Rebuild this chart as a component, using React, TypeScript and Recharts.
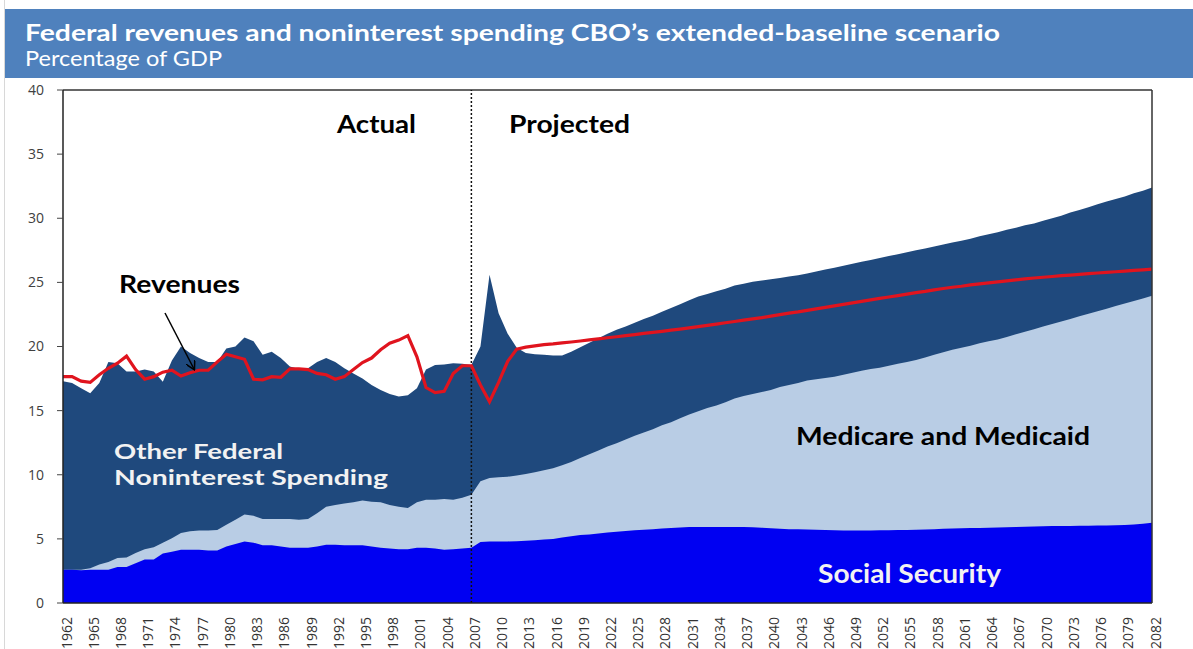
import React from 'react';
import { ComposedChart, Area, Line, XAxis, YAxis, ReferenceLine } from 'recharts';

const years: string[] = Array.from({ length: 121 }, (_, i) => String(1962 + i));

// Total federal noninterest spending (top of dark area), % of GDP
const totalSpending = [
  17.3, 17.15, 16.75, 16.35, 17.15, 18.8, 18.7, 18.05, 18.05, 18.2,
  18.05, 17.25, 18.9, 20.0, 19.5, 19.1, 18.8, 18.8, 19.85, 20.0,
  20.7, 20.4, 19.35, 19.6, 19.1, 18.45, 18.25, 18.3, 18.8, 19.1,
  18.8, 18.3, 17.9, 17.5, 17.0, 16.6, 16.3, 16.1, 16.2, 16.75,
  18.2, 18.55, 18.6, 18.7, 18.65, 18.55, 20.0, 25.6, 22.6, 21.0,
  19.9, 19.5, 19.4, 19.35, 19.3, 19.3, 19.6, 19.95, 20.3, 20.65,
  21.0, 21.3, 21.55, 21.85, 22.15, 22.4, 22.7, 23.0, 23.3, 23.6,
  23.9, 24.1, 24.3, 24.5, 24.75, 24.9, 25.05, 25.15, 25.25, 25.35,
  25.45, 25.55, 25.7, 25.85, 26.0, 26.15, 26.3, 26.45, 26.6, 26.75,
  26.9, 27.05, 27.2, 27.35, 27.5, 27.65, 27.8, 27.95, 28.1, 28.25,
  28.4, 28.6, 28.75, 28.9, 29.1, 29.25, 29.45, 29.6, 29.8, 30.0,
  30.2, 30.45, 30.65, 30.85, 31.1, 31.3, 31.5, 31.7, 31.95, 32.15, 32.4,
];

// Social Security + Medicare and Medicaid (top of light area)
const ssPlusHealth = [
  2.6, 2.6, 2.6, 2.7, 3.0, 3.2, 3.5, 3.55, 3.9, 4.2,
  4.35, 4.7, 5.05, 5.45, 5.6, 5.65, 5.65, 5.7, 6.1, 6.5,
  6.9, 6.8, 6.55, 6.55, 6.55, 6.55, 6.5, 6.55, 7.0, 7.5,
  7.65, 7.75, 7.85, 8.0, 7.9, 7.85, 7.65, 7.5, 7.4, 7.85,
  8.05, 8.05, 8.1, 8.05, 8.2, 8.45, 9.5, 9.75, 9.8, 9.85,
  9.95, 10.05, 10.2, 10.35, 10.5, 10.75, 11.0, 11.3, 11.6, 11.9,
  12.2, 12.45, 12.75, 13.05, 13.3, 13.55, 13.85, 14.1, 14.4, 14.7,
  14.95, 15.2, 15.4, 15.65, 15.95, 16.15, 16.3, 16.45, 16.6, 16.85,
  17.0, 17.15, 17.35, 17.45, 17.55, 17.65, 17.8, 17.95, 18.1, 18.25,
  18.35, 18.5, 18.65, 18.8, 18.95, 19.15, 19.35, 19.55, 19.75, 19.9,
  20.05, 20.25, 20.4, 20.55, 20.75, 20.95, 21.15, 21.35, 21.55, 21.75,
  21.95, 22.15, 22.35, 22.55, 22.75, 22.95, 23.15, 23.35, 23.55, 23.75, 23.95,
];

// Social Security
const socialSecurity = [
  2.6, 2.6, 2.55, 2.6, 2.6, 2.6, 2.8, 2.8, 3.1, 3.4,
  3.4, 3.85, 4.0, 4.15, 4.15, 4.15, 4.1, 4.1, 4.4, 4.6,
  4.8, 4.7, 4.5, 4.5, 4.4, 4.3, 4.3, 4.3, 4.4, 4.55,
  4.55, 4.5, 4.5, 4.5, 4.4, 4.3, 4.25, 4.2, 4.2, 4.3,
  4.3, 4.25, 4.15, 4.2, 4.25, 4.3, 4.75, 4.8, 4.8, 4.8,
  4.82, 4.85, 4.9, 4.95, 5.0, 5.1, 5.2, 5.3, 5.35, 5.42,
  5.5, 5.55, 5.62, 5.68, 5.72, 5.76, 5.8, 5.84, 5.88, 5.92,
  5.93, 5.93, 5.93, 5.93, 5.92, 5.92, 5.9, 5.87, 5.83, 5.78,
  5.76, 5.75, 5.74, 5.72, 5.7, 5.68, 5.66, 5.65, 5.65, 5.66,
  5.67, 5.68, 5.69, 5.7, 5.72, 5.74, 5.76, 5.78, 5.8, 5.82,
  5.84, 5.85, 5.87, 5.88, 5.9, 5.92, 5.94, 5.96, 5.98, 6.0,
  6.0, 6.01, 6.02, 6.03, 6.04, 6.05, 6.06, 6.08, 6.12, 6.18, 6.25,
];

// Revenues
const revenues = [
  17.65, 17.65, 17.3, 17.2, 17.8, 18.3, 18.7, 19.25, 18.2, 17.45,
  17.65, 18.0, 18.15, 17.7, 17.95, 18.15, 18.15, 18.8, 19.4, 19.2,
  19.0, 17.45, 17.4, 17.65, 17.6, 18.25, 18.25, 18.2, 17.9, 17.8,
  17.45, 17.65, 18.2, 18.75, 19.1, 19.75, 20.25, 20.5, 20.85, 19.2,
  16.8, 16.4, 16.5, 17.9, 18.5, 18.5, 17.0, 15.7, 17.2, 18.85,
  19.8, 19.95, 20.05, 20.15, 20.2, 20.28, 20.35, 20.43, 20.52, 20.6,
  20.68, 20.76, 20.85, 20.93, 21.02, 21.1, 21.18, 21.27, 21.36, 21.45,
  21.55, 21.65, 21.75, 21.85, 21.95, 22.05, 22.15, 22.25, 22.37, 22.48,
  22.6, 22.7, 22.82, 22.93, 23.05, 23.17, 23.28, 23.4, 23.52, 23.63,
  23.75, 23.86, 23.97, 24.08, 24.2, 24.3, 24.42, 24.52, 24.62, 24.7,
  24.8, 24.88, 24.96, 25.04, 25.12, 25.2, 25.27, 25.34, 25.4, 25.46,
  25.52, 25.57, 25.62, 25.68, 25.73, 25.78, 25.83, 25.88, 25.93, 25.98, 26.03,
];

const yTicks = [0, 5, 10, 15, 20, 25, 30, 35, 40];

const data = years.map((y, i) => ({
  year: y,
  total: totalSpending[i],
  health: ssPlusHealth[i],
  ss: socialSecurity[i],
  rev: revenues[i],
}));

const FONT = 'Lato, "Open Sans", sans-serif';
const TICKFONT = '"Open Sans", sans-serif';

const RotTick = (props: any) => {
  const { x, y, payload } = props;
  const tx = x + 3;
  const ty = y + 6;
  return (
    <text
      x={tx}
      y={ty}
      transform={`rotate(-90 ${tx} ${ty})`}
      textAnchor="end"
      dominantBaseline="central"
      fontSize={14}
      fontFamily={TICKFONT}
      fill="#333"
    >
      {payload.value}
    </text>
  );
};

export default function App() {
  return (
    <div style={{ position: 'absolute', left: 0, top: 0, width: 1193, height: 649, background: '#fff', overflow: 'hidden' }}>
      <div style={{ position: 'absolute', left: 4, top: 0, width: 1, height: 649, background: '#d8d8d8' }} />
      <div style={{ position: 'absolute', left: 5, top: 9, width: 1188, height: 69, background: '#4f81bd' }} />
      <div style={{ position: 'absolute', left: 0, top: 0 }}>
        <ComposedChart width={1193} height={649} data={data} margin={{ top: 90, right: 1, bottom: 6, left: 23 }}>
          <XAxis
            dataKey="year"
            interval={2}
            height={40}
            tick={<RotTick />}
            tickLine={false}
            axisLine={{ stroke: '#222', strokeWidth: 1.5 }}
          />
          <YAxis
            yAxisId="l"
            width={40}
            domain={[0, 40]}
            ticks={yTicks}
            tickSize={6}
            tickMargin={13}
            tick={{ fontSize: 14, fill: '#404040', fontFamily: TICKFONT }}
            axisLine={{ stroke: '#222', strokeWidth: 1.5 }}
            tickLine={{ stroke: '#444' }}
          />
          <YAxis
            yAxisId="r"
            orientation="right"
            width={40}
            domain={[0, 40]}
            ticks={yTicks}
            tickSize={7}
            tickMargin={11}
            tick={{ fontSize: 14, fill: '#404040', fontFamily: TICKFONT, textAnchor: 'start' }}
            axisLine={{ stroke: '#333', strokeWidth: 1.5 }}
            tickLine={{ stroke: '#888' }}
          />
          <Area yAxisId="l" type="linear" dataKey="total" fill="#1f497d" fillOpacity={1} stroke="none" dot={false} activeDot={false} isAnimationActive={false} />
          <Area yAxisId="l" type="linear" dataKey="health" fill="#b9cde5" fillOpacity={1} stroke="none" dot={false} activeDot={false} isAnimationActive={false} />
          <Area yAxisId="l" type="linear" dataKey="ss" fill="#0000f2" fillOpacity={1} stroke="none" dot={false} activeDot={false} isAnimationActive={false} />
          <ReferenceLine yAxisId="l" y={40} stroke="#333" strokeWidth={1.5} />
          <ReferenceLine yAxisId="l" x="2007" stroke="#111" strokeWidth={1.5} strokeDasharray="2 2" />
          <Line yAxisId="l" type="linear" dataKey="rev" stroke="#e0141e" strokeWidth={3.2} dot={false} activeDot={false} isAnimationActive={false} />
        </ComposedChart>
      </div>
      <svg width={1193} height={649} style={{ position: 'absolute', left: 0, top: 0, pointerEvents: 'none' }}>
        <defs>
          <marker id="arr" markerWidth="10" markerHeight="10" refX="8" refY="5" orient="auto" markerUnits="userSpaceOnUse">
            <path d="M0,0 L9,5 L0,10" fill="none" stroke="#000" strokeWidth={1.5} />
          </marker>
        </defs>
        <text x={25} y={41} fontFamily={FONT} fontWeight={700} fontSize={22} fill="#fff" textLength={975} lengthAdjust="spacingAndGlyphs">
          Federal revenues and noninterest spending CBO’s extended-baseline scenario
        </text>
        <text x={25} y={66} fontFamily={FONT} fontWeight={400} fontSize={21} fill="#fff" textLength={197} lengthAdjust="spacingAndGlyphs">
          Percentage of GDP
        </text>
        <text x={337} y={133} fontFamily={FONT} fontWeight={700} fontSize={25} fill="#000" textLength={79} lengthAdjust="spacingAndGlyphs">Actual</text>
        <text x={509} y={133} fontFamily={FONT} fontWeight={700} fontSize={25} fill="#000" textLength={121} lengthAdjust="spacingAndGlyphs">Projected</text>
        <text x={119} y={293} fontFamily={FONT} fontWeight={700} fontSize={25} fill="#000" textLength={121} lengthAdjust="spacingAndGlyphs">Revenues</text>
        <line x1={165} y1={313} x2={194} y2={369} stroke="#000" strokeWidth={1.5} markerEnd="url(#arr)" />
        <text x={114} y={459} fontFamily={FONT} fontWeight={700} fontSize={21} fill="#f2f2f2" textLength={169} lengthAdjust="spacingAndGlyphs">Other Federal</text>
        <text x={114} y={485} fontFamily={FONT} fontWeight={700} fontSize={21} fill="#f2f2f2" textLength={274} lengthAdjust="spacingAndGlyphs">Noninterest Spending</text>
        <text x={796} y={445} fontFamily={FONT} fontWeight={700} fontSize={25} fill="#000" textLength={294} lengthAdjust="spacingAndGlyphs">Medicare and Medicaid</text>
        <text x={818} y={583} fontFamily={FONT} fontWeight={700} fontSize={26} fill="#f2f2f2" textLength={183} lengthAdjust="spacingAndGlyphs">Social Security</text>
      </svg>
    </div>
  );
}
